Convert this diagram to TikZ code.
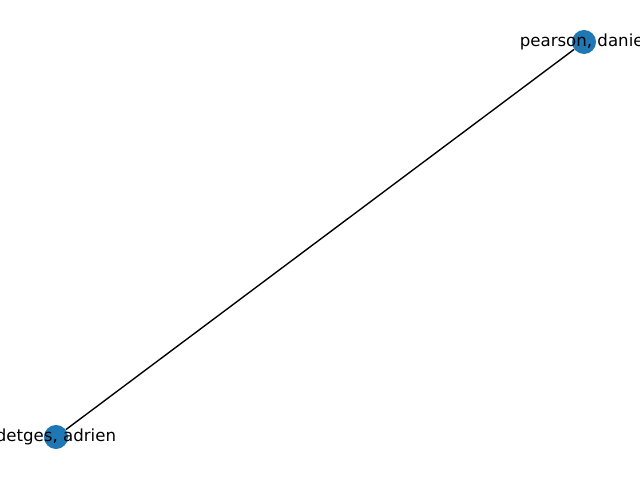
\documentclass[tikz,border=0pt]{standalone}
\usepackage{fontspec}
\setmainfont{DejaVu Sans}
\usetikzlibrary{positioning}
\definecolor{nodeblue}{HTML}{1F77B4}

\begin{document}
\begin{tikzpicture}[
    x=0.01in, y=-0.01in,
    person/.style={circle, fill=nodeblue, minimum size=0.24in, inner sep=0pt},
    nametag/.style={font=\fontsize{12pt}{14pt}\selectfont, inner sep=0pt},
    link/.style={black, line width=1pt}
]
\useasboundingbox (0,0) rectangle (640,480);
\clip (0,0) rectangle (640,480);

\node[person] (pearson) at (584,42) {};
\node[person] (adrien) at (56,437) {};

\draw[link] (pearson) -- (adrien);

\node[nametag] (pearsonlabel) at (pearson) {pearson, daniel};
\node[nametag] (adrienlabel) at (adrien) {detges, adrien};

\end{tikzpicture}
\end{document}
